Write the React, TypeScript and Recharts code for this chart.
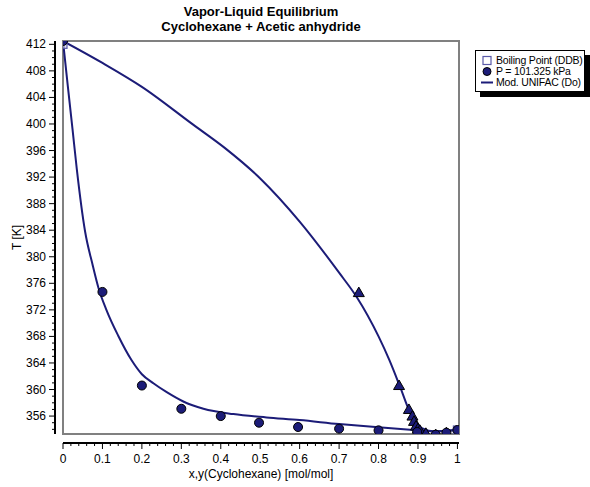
import {
  ComposedChart,
  Line,
  Scatter,
  XAxis,
  YAxis,
  CartesianGrid,
  ReferenceArea,
} from 'recharts';

// Experimental liquid-phase points (x, T) at P = 101.325 kPa
const liquidX = [0, 0.1, 0.2, 0.3, 0.4, 0.497, 0.596, 0.7, 0.8, 0.898, 0.945, 0.972, 1];
const liquidT = [412.5, 374.7, 360.6, 357.1, 356.0, 355.0, 354.35, 354.1, 353.85, 353.6, 353.2, 353.5, 353.9];

// Experimental vapor-phase points (y, T)
const vaporX = [0.75, 0.852, 0.877, 0.886, 0.89, 0.895, 0.9, 0.905, 0.92, 0.945, 0.972];
const vaporT = [374.6, 360.6, 357.0, 356.0, 355.2, 354.5, 354.1, 353.85, 353.4, 353.2, 353.5];

// Pure-component boiling points
const boilX = [0, 1];
const boilT = [412.0, 353.9];

// Mod. UNIFAC (Do) bubble curve
const bubbleX = [0, 0.012, 0.024, 0.035, 0.056, 0.075, 0.09, 0.11, 0.14, 0.174, 0.2, 0.23, 0.263, 0.305, 0.356, 0.432, 0.516, 0.6, 0.7, 0.8, 0.888, 0.94, 1];
const bubbleT = [412.5, 405.8, 399.3, 393.2, 383.8, 378.8, 375.3, 372.0, 368.1, 364.4, 362.3, 360.9, 359.6, 358.2, 357.1, 356.3, 355.8, 355.4, 354.8, 354.3, 353.9, 353.7, 353.9];

// Mod. UNIFAC (Do) dew curve
const dewX = [0, 0.1, 0.2, 0.33, 0.41, 0.5, 0.6, 0.7, 0.745, 0.8, 0.827, 0.854, 0.88, 0.896, 0.913, 0.94, 1];
const dewT = [412.5, 409.2, 405.6, 399.9, 396.4, 391.8, 385.3, 377.6, 373.9, 368.0, 364.5, 360.5, 356.5, 354.75, 354.1, 353.7, 353.9];

const xMajor = [0, 0.1, 0.2, 0.3, 0.4, 0.5, 0.6, 0.7, 0.8, 0.9, 1];
const xMinor = Array.from({ length: 51 }, (_, i) => i / 50);
const yMajor = [356, 360, 364, 368, 372, 376, 380, 384, 388, 392, 396, 400, 404, 408, 412];
const yMinor = Array.from({ length: 59 }, (_, i) => 354 + i);

const X_DOMAIN: [number, number] = [0, 1.004];
const Y_DOMAIN: [number, number] = [353.3, 412.5];

const NAVY = '#1c1c78';
const FONT = '"Liberation Sans", Arial, sans-serif';

const zip = (xs: number[], ts: number[]) => xs.map((x, i) => ({ x, t: ts[i] }));

const liquid = zip(liquidX, liquidT);
const vapor = zip(vaporX, vaporT);
const boiling = zip(boilX, boilT);
const bubble = zip(bubbleX, bubbleT);
const dew = zip(dewX, dewT);

const isMajor = (v: number, list: number[]) => list.some((m) => Math.abs(m - v) < 1e-6);

const XTick = (props: any) => {
  const { x, y, payload } = props;
  const major = isMajor(payload.value, xMajor);
  return (
    <g>
      <line x1={x} x2={x} y1={y} y2={y + (major ? 6 : 3)} stroke="#000" />
      {major && (
        <text x={x} y={y + 20} textAnchor="middle" fontSize={12} fontFamily={FONT} fill="#000">
          {String(Math.round(payload.value * 10) / 10)}
        </text>
      )}
    </g>
  );
};

const YTick = (props: any) => {
  const { x, y, payload } = props;
  const major = isMajor(payload.value, yMajor);
  return (
    <g>
      <line x1={x} x2={x - (major ? 6 : 3)} y1={y} y2={y} stroke="#000" />
      {major && (
        <text x={x - 9} y={y + 4} textAnchor="end" fontSize={12} fontFamily={FONT} fill="#000">
          {payload.value}
        </text>
      )}
    </g>
  );
};

// rotated "T [K]" title, placed against the axis viewBox
const YTitle = (props: any) => {
  const vb = props.viewBox || {};
  const cx = (vb.x ?? 0) + 17;
  const cy = (vb.y ?? 0) + (vb.height ?? 0) / 2;
  return (
    <text
      x={cx}
      y={cy}
      transform={`rotate(-90 ${cx} ${cy})`}
      textAnchor="middle"
      dominantBaseline="central"
      fontSize={12}
      fontFamily={FONT}
      fill="#000"
    >
      T [K]
    </text>
  );
};

const Dot = (props: any) => (
  <circle cx={props.cx} cy={props.cy} r={4.5} fill={NAVY} stroke="#000" strokeWidth={1} />
);

const Tri = (props: any) => {
  const { cx, cy } = props;
  return (
    <path
      d={`M${cx},${cy - 5.5} L${cx + 5.5},${cy + 4} L${cx - 5.5},${cy + 4} Z`}
      fill={NAVY}
      stroke="#000"
      strokeWidth={1}
    />
  );
};

const Box = (props: any) => (
  <rect x={props.cx - 4} y={props.cy - 4} width={8} height={8} fill="#d8d8ec" fillOpacity={0.6} stroke="#5a5aa8" strokeWidth={1.2} />
);

function LegendBox() {
  const row = { display: 'flex', alignItems: 'center', height: 11, whiteSpace: 'nowrap' } as const;
  return (
    <div
      style={{
        position: 'absolute',
        left: 475,
        top: 50,
        width: 110,
        height: 42,
        padding: '4px 0 0 5px',
        background: '#fff',
        border: '1px solid #000',
        boxShadow: '5px 5px 0 #000',
        fontFamily: FONT,
        fontSize: 10.5,
        lineHeight: '11px',
        letterSpacing: -0.2,
        color: '#000',
        boxSizing: 'border-box',
      }}
    >
      <div style={row}>
        <svg width={15} height={11}>
          <rect x={2} y={1.5} width={8} height={8} fill="#fff" stroke="#5a5aa8" strokeWidth={1.2} />
        </svg>
        <span>Boiling Point (DDB)</span>
      </div>
      <div style={row}>
        <svg width={15} height={11}>
          <circle cx={6} cy={5.5} r={4} fill={NAVY} stroke="#000" />
        </svg>
        <span>P = 101.325 kPa</span>
      </div>
      <div style={row}>
        <svg width={15} height={11}>
          <line x1={0} x2={12} y1={5.5} y2={5.5} stroke={NAVY} strokeWidth={2} />
        </svg>
        <span>Mod. UNIFAC (Do)</span>
      </div>
    </div>
  );
}

export default function App() {
  return (
    <div style={{ position: 'absolute', left: 0, top: 0, width: 590, height: 487, background: '#fff' }}>
      <div
        style={{
          position: 'absolute',
          left: 63,
          width: 396,
          top: 4,
          textAlign: 'center',
          fontFamily: FONT,
          fontWeight: 'bold',
          fontSize: 13,
          lineHeight: '15px',
          color: '#000',
        }}
      >
        Vapor-Liquid Equilibrium
        <br />
        Cyclohexane + Acetic anhydride
      </div>
      <ComposedChart width={590} height={487} margin={{ top: 41, right: 131, bottom: 0, left: 0 }}>
        {/* inner axes only reserve the gap between frame and the offset axis lines */}
        <XAxis
          xAxisId="gap"
          type="number"
          dataKey="x"
          domain={X_DOMAIN}
          ticks={xMajor}
          height={9}
          tick={false}
          tickLine={false}
          axisLine={false}
          allowDataOverflow
        />
        <XAxis
          xAxisId="main"
          type="number"
          dataKey="x"
          domain={X_DOMAIN}
          ticks={xMinor}
          interval={0}
          height={44}
          tickSize={0}
          tickMargin={0}
          tickLine={false}
          tick={<XTick />}
          axisLine={{ stroke: '#000', strokeWidth: 2 }}
          allowDataOverflow
          label={{
            value: 'x,y(Cyclohexane) [mol/mol]',
            position: 'insideBottom',
            offset: 9,
            fontSize: 12,
            fontFamily: FONT,
            fill: '#000',
          }}
        />
        <YAxis
          yAxisId="gap"
          type="number"
          dataKey="t"
          domain={Y_DOMAIN}
          ticks={yMajor}
          width={8}
          tick={false}
          tickLine={false}
          axisLine={false}
          allowDataOverflow
        />
        <YAxis
          yAxisId="main"
          type="number"
          dataKey="t"
          domain={Y_DOMAIN}
          ticks={yMinor}
          interval={0}
          width={55}
          tickSize={0}
          tickMargin={0}
          tickLine={false}
          tick={<YTick />}
          axisLine={{ stroke: '#000', strokeWidth: 2 }}
          allowDataOverflow
          label={<YTitle />}
        />
        <CartesianGrid xAxisId="gap" yAxisId="gap" stroke="#b4b4b4" strokeDasharray="1 1" />
        <ReferenceArea
          xAxisId="gap"
          yAxisId="gap"
          x1={X_DOMAIN[0]}
          x2={X_DOMAIN[1]}
          y1={Y_DOMAIN[0]}
          y2={Y_DOMAIN[1]}
          fill="none"
          stroke="#808080"
          strokeWidth={2}
          ifOverflow="visible"
        />
        <Line
          xAxisId="gap"
          yAxisId="gap"
          data={bubble}
          dataKey="t"
          type="monotone"
          stroke={NAVY}
          strokeWidth={2}
          dot={false}
          activeDot={false}
          isAnimationActive={false}
        />
        <Line
          xAxisId="gap"
          yAxisId="gap"
          data={dew}
          dataKey="t"
          type="monotone"
          stroke={NAVY}
          strokeWidth={2}
          dot={false}
          activeDot={false}
          isAnimationActive={false}
        />
        <Scatter xAxisId="gap" yAxisId="gap" data={boiling} dataKey="t" shape={<Box />} isAnimationActive={false} />
        <Scatter xAxisId="gap" yAxisId="gap" data={vapor} dataKey="t" shape={<Tri />} isAnimationActive={false} />
        <Scatter xAxisId="gap" yAxisId="gap" data={liquid} dataKey="t" shape={<Dot />} isAnimationActive={false} />
      </ComposedChart>
      <LegendBox />
    </div>
  );
}
